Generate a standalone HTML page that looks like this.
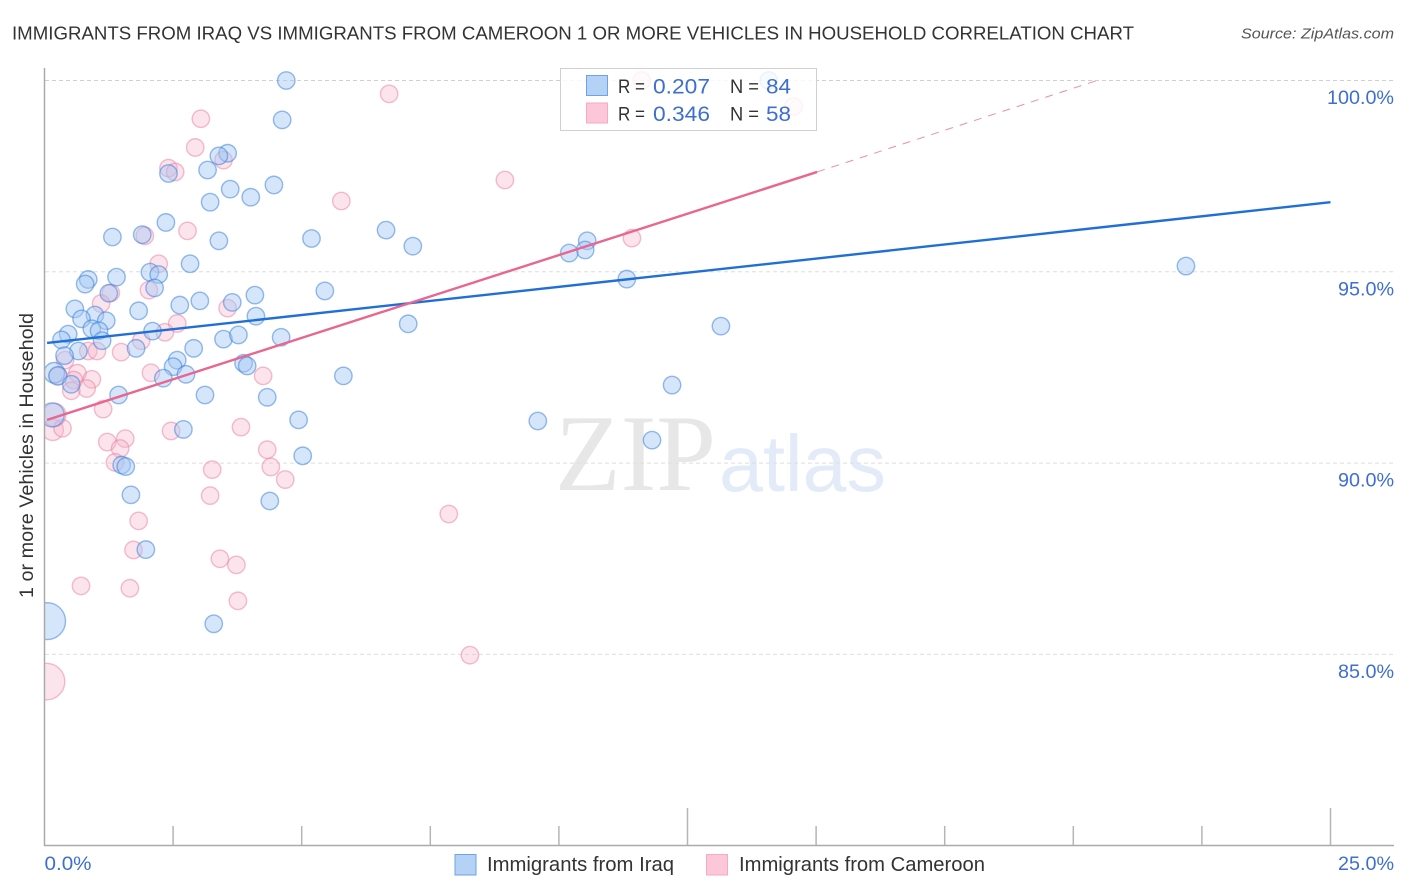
<!DOCTYPE html>
<html lang="en">
<head>
<meta charset="utf-8">
<title>Immigrants from Iraq vs Immigrants from Cameroon 1 or more Vehicles in Household Correlation Chart</title>
<style>
html,body{margin:0;padding:0;background:#fff;}
svg{display:block;font-family:"Liberation Sans",sans-serif;}
</style>
</head>
<body>
<svg id="chart" xmlns="http://www.w3.org/2000/svg" width="1406" height="892" viewBox="0 0 1406 892">
  <defs>
    <clipPath id="plot-clip"><rect x="45" y="60" width="1361" height="786"/></clipPath>
  </defs>
  <rect x="0" y="0" width="1406" height="892" fill="#fff"/>

  <text x="12" y="39.5" font-size="18.5" fill="#333" textLength="1122" lengthAdjust="spacingAndGlyphs">IMMIGRANTS FROM IRAQ VS IMMIGRANTS FROM CAMEROON 1 OR MORE VEHICLES IN HOUSEHOLD CORRELATION CHART</text>
  <text x="1241" y="38.5" font-size="15" font-style="italic" fill="#555" textLength="153" lengthAdjust="spacingAndGlyphs">Source: ZipAtlas.com</text>

  <g>
    <text x="555" y="490" font-family="'Liberation Serif',serif" font-size="109" fill="#e7e7e7" textLength="161" lengthAdjust="spacingAndGlyphs">ZIP</text>
    <text x="719" y="491" font-size="80" fill="#e3ebf9" textLength="167" lengthAdjust="spacingAndGlyphs">atlas</text>
  </g>

  <g id="grid"></g>
  <g id="pink-points" clip-path="url(#plot-clip)"></g>
  <g id="blue-points" clip-path="url(#plot-clip)"></g>
  <rect x="0" y="60" width="44.5" height="786" fill="#fff"/>
  <g id="trends"></g>
  <g id="axes"></g>

  <text x="27" y="0" transform="translate(0,598) rotate(-90 27 0) translate(27,0)" dy="0" font-size="19.5" fill="#333" textLength="285" lengthAdjust="spacingAndGlyphs"><tspan x="0" y="6">1 or more Vehicles in Household</tspan></text>

  <g>
    <rect x="560.5" y="68.5" width="256" height="62" fill="#fff" fill-opacity="0.82" stroke="#d0d0d0" stroke-width="1"/>
    <rect x="586.5" y="75.5" width="21" height="20" fill="#b4d1f6" stroke="#6fa2e6" stroke-width="1"/>
    <rect x="586.5" y="103" width="21" height="20" fill="#fcc7d9" stroke="#f6aac3" stroke-width="1"/>
    <text x="618" y="93" font-size="19.5" fill="#333" textLength="27" lengthAdjust="spacingAndGlyphs">R =</text>
    <text x="653" y="93.5" font-size="21.5" fill="#3d6fd1" textLength="57" lengthAdjust="spacingAndGlyphs">0.207</text>
    <text x="730" y="93" font-size="19.5" fill="#333" textLength="29" lengthAdjust="spacingAndGlyphs">N =</text>
    <text x="766" y="93.5" font-size="21.5" fill="#3d6fd1" textLength="25" lengthAdjust="spacingAndGlyphs">84</text>
    <text x="618" y="120.5" font-size="19.5" fill="#333" textLength="27" lengthAdjust="spacingAndGlyphs">R =</text>
    <text x="653" y="121" font-size="21.5" fill="#3d6fd1" textLength="57" lengthAdjust="spacingAndGlyphs">0.346</text>
    <text x="730" y="120.5" font-size="19.5" fill="#333" textLength="29" lengthAdjust="spacingAndGlyphs">N =</text>
    <text x="766" y="121" font-size="21.5" fill="#3d6fd1" textLength="25" lengthAdjust="spacingAndGlyphs">58</text>
  </g>

  <g>
    <g>
      <rect x="455" y="854.5" width="21" height="20.5" fill="#b4d1f6" stroke="#6fa2e6" stroke-width="1"/>
      <text x="487" y="871" font-size="20" fill="#333" textLength="187" lengthAdjust="spacingAndGlyphs">Immigrants from Iraq</text>
    </g>
    <g>
      <rect x="706.5" y="854.5" width="21" height="20.5" fill="#fcc7d9" stroke="#f6aac3" stroke-width="1"/>
      <text x="739" y="871" font-size="20" fill="#333" textLength="246" lengthAdjust="spacingAndGlyphs">Immigrants from Cameroon</text>
    </g>
  </g>
</svg>

<script>
const iraqX = [4.70,4.62,3.56,3.39,3.17,2.41,3.61,4.46,4.01,3.22,2.36,1.32,1.90,3.39,5.19,2.83,2.05,2.22,0.85,0.79,1.40,2.14,1.25,5.45,4.09,3.65,3.02,2.63,0.59,1.83,0.98,0.72,1.20,4.11,2.10,0.92,1.06,0.46,0.33,1.12,3.48,3.77,4.60,0.66,0.39,1.78,2.90,2.58,2.50,2.31,2.75,3.87,3.94,0.19,0.26,0.52,1.44,3.12,4.33,5.81,4.94,2.70,5.02,0.15,1.50,1.58,1.68,4.38,1.97,3.29,0.05,22.19,13.15,12.20,11.81,9.59,11.32,10.55,10.51,10.20,7.16,6.64,7.07,14.08];
const iraqY = [100.00,98.97,98.10,98.03,97.66,97.57,97.16,97.27,96.95,96.82,96.29,95.91,95.97,95.81,95.87,95.21,94.99,94.93,94.80,94.68,94.86,94.58,94.44,94.50,94.39,94.20,94.24,94.13,94.03,93.98,93.87,93.77,93.72,93.84,93.45,93.51,93.46,93.37,93.22,93.20,93.24,93.35,93.29,92.93,92.81,93.00,93.00,92.69,92.52,92.22,92.32,92.61,92.54,92.36,92.28,92.06,91.78,91.78,91.72,92.28,91.13,90.88,90.19,91.26,89.95,89.91,89.17,89.01,87.74,85.80,85.87,95.15,93.58,92.04,90.60,91.10,94.81,95.81,95.57,95.49,95.67,96.09,93.64,100.00];
const iraqWeight = [1,1,1,1,1,1,1,1,1,1,1,1,1,1,1,1,1,1,1,1,1,1,1,1,1,1,1,1,1,1,1,1,1,1,1,1,1,1,1,1,1,1,1,1,1,1,1,1,1,1,1,1,1,1.4,1.1,1,1,1,1,1,1,1,1,1.9,1,1,1,1,1,1,4.5,1,1,1,1,1,1,1,1,1,1,1,1,1];

const cameroonX = [3.04,2.93,3.48,2.41,2.54,5.77,2.78,1.95,2.22,2.03,1.29,1.10,3.56,2.58,2.34,1.88,0.85,1.02,1.49,0.40,2.07,4.25,0.64,0.92,0.57,0.82,0.52,0.26,1.14,0.16,0.35,0.19,2.46,3.82,1.22,1.57,1.47,1.37,4.33,4.40,4.68,3.26,3.22,1.83,1.73,3.41,3.73,0.71,1.66,3.76,6.70,8.95,11.42,7.86,8.27,0.04,11.61,14.56];
const cameroonY = [99.00,98.25,97.92,97.71,97.61,96.85,96.07,95.94,95.21,94.52,94.45,94.17,94.05,93.65,93.42,93.20,92.93,92.93,92.90,92.69,92.36,92.28,92.35,92.19,92.17,91.95,91.89,92.28,91.41,90.87,90.91,91.26,90.84,90.94,90.55,90.64,90.38,90.02,90.35,89.90,89.57,89.83,89.15,88.49,87.73,87.50,87.34,86.79,86.73,86.40,99.65,97.40,95.88,88.67,84.98,84.29,100.00,99.32];
const cameroonWeight = [1,1,1,1,1,1,1,1,1,1,1,1,1,1,1,1,1,1,1,1,1,1,1,1,1,1,1,1,1,1.5,1,1.8,1,1,1,1,1,1,1,1,1,1,1,1,1,1,1,1,1,1,1,1,1,1,1,4.4,1,1];

const iraqTrendX = [0.05,25];
const iraqTrendY = [93.14,96.82];
const cameroonTrendX = [0.05,15.02];
const cameroonTrendY = [91.13,97.61];
const cameroonDashX = [15.02,20.46];
const cameroonDashY = [97.61,100];

const yTicks = [100,95,90,85];
const yTickLabels = ["100.0%","95.0%","90.0%","85.0%"];
const xTicks = [2.5,5,7.5,10,12.5,15,17.5,20,22.5,25];
const xMajorTicks = [12.5,25];
const xEndTicks = [0,25];
const xTickLabels = ["0.0%","25.0%"];

const NS = "http://www.w3.org/2000/svg";
const xScale = v => 44.5 + v * 51.44;
const yScale = v => 80.5 + (100 - v) * 38.26;
const rScale = w => 8.7 * Math.sqrt(w);
const byId = id => document.getElementById(id);

function make(tag, attrs) {
  const el = document.createElementNS(NS, tag);
  for (const k in attrs) el.setAttribute(k, attrs[k]);
  return el;
}

yTicks.forEach((t, i) => {
  const line = make("line", {x1: 45, x2: 1393, y1: yScale(t), y2: yScale(t), stroke: i === 0 ? "#cfcfcf" : "#dedede", "stroke-width": 1, "stroke-dasharray": "4 3"});
  
  
  byId("grid").appendChild(line);
  const label = make("text", {x: 1394, y: yScale(t) + 23.5, "font-size": 19, fill: "#3d6fd1", "text-anchor": "end", textLength: i === 0 ? 67 : 56, lengthAdjust: "spacingAndGlyphs"});
  label.textContent = yTickLabels[i];
  
  
  byId("axes").appendChild(label);
});

const yAxis = make("line", {x1: 44.5, x2: 44.5, y1: 68, y2: 846, stroke: "#aaa", "stroke-width": 1.5});


byId("axes").appendChild(yAxis);

const xAxis = make("line", {x1: 44, x2: 1394, y1: 845.5, y2: 845.5, stroke: "#aaa", "stroke-width": 1.5});


byId("axes").appendChild(xAxis);

xTicks.forEach(t => {
  const tick = make("line", {x1: xScale(t), x2: xScale(t), y1: xMajorTicks.includes(t) ? 808 : 826, y2: 845, stroke: "#b5b5b5", "stroke-width": 1.5});
  
  
  byId("axes").appendChild(tick);
});

xEndTicks.forEach((t, i) => {
  const label = make("text", {x: i === 0 ? xScale(t) : 1394, y: 870, "font-size": 19, fill: "#3d6fd1", "text-anchor": i === 0 ? "start" : "end", textLength: i === 0 ? 47 : 56, lengthAdjust: "spacingAndGlyphs"});
  label.textContent = xTickLabels[i];
  
  
  byId("axes").appendChild(label);
});

cameroonX.forEach((v, i) => {
  const c = make("circle", {cx: xScale(v), cy: yScale(cameroonY[i]), r: rScale(cameroonWeight[i]), fill: "#f8b4ca", "fill-opacity": 0.36, stroke: "#ea7d9f", "stroke-opacity": 0.5, "stroke-width": 1.4});
  
  
  byId("pink-points").appendChild(c);
});

iraqX.forEach((v, i) => {
  const c = make("circle", {cx: xScale(v), cy: yScale(iraqY[i]), r: rScale(iraqWeight[i]), fill: "#a3c8f3", "fill-opacity": 0.45, stroke: "#2f79d8", "stroke-opacity": 0.5, "stroke-width": 1.4});
  
  
  byId("blue-points").appendChild(c);
});

const dashLine = make("line", {x1: xScale(cameroonDashX[0]), y1: yScale(cameroonDashY[0]), x2: xScale(cameroonDashX[1]), y2: yScale(cameroonDashY[1]), stroke: "#e88fab", "stroke-width": 1, "stroke-dasharray": "8 7"});


byId("trends").appendChild(dashLine);

const blueLine = make("line", {x1: xScale(iraqTrendX[0]), y1: yScale(iraqTrendY[0]), x2: xScale(iraqTrendX[1]), y2: yScale(iraqTrendY[1]), stroke: "#1f6fd6", "stroke-width": 2.4});


byId("trends").appendChild(blueLine);

const pinkLine = make("line", {x1: xScale(cameroonTrendX[0]), y1: yScale(cameroonTrendY[0]), x2: xScale(cameroonTrendX[1]), y2: yScale(cameroonTrendY[1]), stroke: "#e8668f", "stroke-width": 2.4});


byId("trends").appendChild(pinkLine);
</script>
</body>
</html>
